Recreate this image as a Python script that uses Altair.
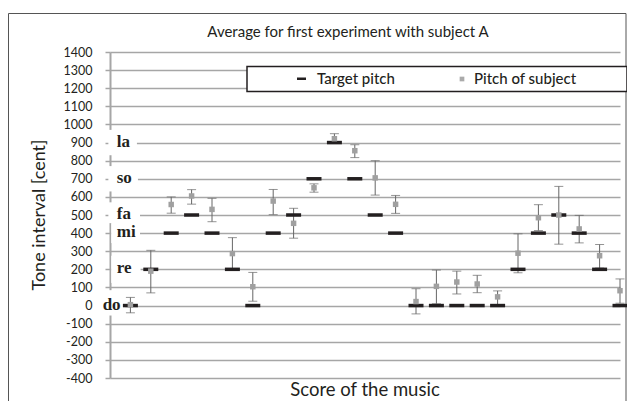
import altair as alt
import pandas as pd

# ---- data ----
positions = [1, 2, 3, 4, 5, 6, 7, 8, 9, 10, 11, 12, 13, 14, 15, 16, 17, 18, 19, 20, 21, 22, 23, 24, 25]
target = [0, 200, 400, 500, 400, 200, 0, 400, 500, 700, 900, 700, 500, 400, 0, 0, 0, 0, 0, 200, 400, 500, 400, 200, 0]
subject = [5, 190, 558, 605, 531, 287, 104, 577, 454, 650, 921, 855, 705, 559, 22, 106, 130, 119, 48, 289, 485, 500, 423, 275, 82]
err_low = [-40, 70, 510, 560, 463, 198, 24, 502, 372, 626, 898, 817, 610, 509, -46, 10, 64, 71, 5, 181, 414, 339, 346, 207, 13]
err_high = [45, 305, 600, 640, 592, 375, 183, 641, 537, 672, 949, 888, 800, 608, 93, 196, 190, 167, 81, 396, 557, 658, 498, 337, 147]

solfege = ["do", "re", "mi", "fa", "so", "la"]
solfege_cents = [0, 200, 400, 500, 700, 900]
y_ticks = list(range(-400, 1401, 100))

title_text = "Average for first experiment with subject A"
y_title = "Tone interval [cent]"
x_title = "Score of the music"
legend_labels = ["Target pitch", "Pitch of subject"]

# label placement (annotation layout)
label_x = [-0.36, 0.33, 0.33, 0.33, 0.33, 0.33]
box_x1 = [-0.5, 0.06, 0.06, -0.08, -0.08, -0.08]
box_x2 = [0.75, 1.5, 1.47, 1.47, 1.37, 1.32]
box_lo = [-55, 125, 345, 455, 630, 830]
box_hi = [85, 275, 455, 570, 770, 970]

df = pd.DataFrame({"pos": positions, "target": target, "subject": subject,
                   "lo": err_low, "hi": err_high})
lab = pd.DataFrame({"name": solfege, "cents": solfege_cents, "lx": label_x,
                    "bx1": box_x1, "bx2": box_x2, "blo": box_lo, "bhi": box_hi})

FONT = "Lato"
INK = "#231f20"
GRID = "#a6a6a6"

xs = alt.Scale(domain=[0, 25], nice=False, zero=False)
ys = alt.Scale(domain=[-400, 1400], nice=False, zero=False)
xaxis = alt.Axis(title=None, labels=False, ticks=False, domain=False, grid=False)
yaxis = alt.Axis(title=None, values=y_ticks, grid=True, labelExpr="'' + datum.value")

one = alt.Data(values=[{"a": 1}])

frame = alt.Chart(one).mark_rect(filled=False, stroke="#555555", strokeWidth=1).encode(
    x=alt.value(-101.5), x2=alt.value(516), y=alt.value(-38.5), y2=alt.value(400))

boxes = alt.Chart(lab).mark_rect(color="white").encode(
    x=alt.X("bx1:Q", scale=xs, axis=xaxis), x2="bx2:Q",
    y=alt.Y("blo:Q", scale=ys, axis=yaxis), y2="bhi:Q")

rules = alt.Chart(df).mark_rule(color="#666666", strokeWidth=1).encode(
    x=alt.X("pos:Q", scale=xs, axis=xaxis),
    y=alt.Y("lo:Q", scale=ys, axis=yaxis), y2="hi:Q")

caps_lo = alt.Chart(df).mark_tick(orient="horizontal", size=9, thickness=1, color="#666666").encode(
    x=alt.X("pos:Q", scale=xs, axis=xaxis), y=alt.Y("lo:Q", scale=ys, axis=yaxis))
caps_hi = alt.Chart(df).mark_tick(orient="horizontal", size=9, thickness=1, color="#666666").encode(
    x=alt.X("pos:Q", scale=xs, axis=xaxis), y=alt.Y("hi:Q", scale=ys, axis=yaxis))

bars = alt.Chart(df).mark_tick(orient="horizontal", size=15, thickness=3.5, color=INK, opacity=1).encode(
    x=alt.X("pos:Q", scale=xs, axis=xaxis), y=alt.Y("target:Q", scale=ys, axis=yaxis))

squares = alt.Chart(df).mark_square(size=30, color="#a0a0a0", opacity=1).encode(
    x=alt.X("pos:Q", scale=xs, axis=xaxis), y=alt.Y("subject:Q", scale=ys, axis=yaxis))

labels = alt.Chart(lab).mark_text(font="Liberation Serif", fontWeight="bold", fontSize=17,
                                  align="left", baseline="middle", color=INK, dy=-1).encode(
    x=alt.X("lx:Q", scale=xs, axis=xaxis), y=alt.Y("cents:Q", scale=ys, axis=yaxis), text="name:N")

leg_box = alt.Chart(one).mark_rect(fill="white", stroke=INK, strokeWidth=1.5).encode(
    x=alt.value(137), x2=alt.value(517), y=alt.value(14.5), y2=alt.value(39.5))
leg_dash = alt.Chart(one).mark_rect(color=INK).encode(
    x=alt.value(187), x2=alt.value(196), y=alt.value(25.5), y2=alt.value(28))
leg_sq = alt.Chart(one).mark_square(size=22, color="#aaaaaa", opacity=1).encode(
    x=alt.value(352), y=alt.value(27))
leg_t1 = alt.Chart(one).mark_text(font=FONT, fontSize=15, fontWeight=500, align="left", baseline="middle", color=INK).encode(
    x=alt.value(207), y=alt.value(27), text=alt.value(legend_labels[0]))
leg_t2 = alt.Chart(one).mark_text(font=FONT, fontSize=15, fontWeight=500, align="left", baseline="middle", color=INK).encode(
    x=alt.value(364), y=alt.value(27), text=alt.value(legend_labels[1]))

t_title = alt.Chart(one).mark_text(font=FONT, fontSize=15, align="center", baseline="middle", color=INK).encode(
    x=alt.value(238), y=alt.value(-20), text=alt.value(title_text))
t_y = alt.Chart(one).mark_text(font=FONT, fontSize=18, align="center", baseline="middle", angle=270, color=INK).encode(
    x=alt.value(-70), y=alt.value(163), text=alt.value(y_title))
t_x = alt.Chart(one).mark_text(font=FONT, fontSize=18.5, align="center", baseline="middle", color=INK).encode(
    x=alt.value(255), y=alt.value(338), text=alt.value(x_title))

chart = alt.layer(
    frame, boxes, rules, caps_lo, caps_hi, bars, squares, labels,
    leg_box, leg_dash, leg_sq, leg_t1, leg_t2, t_title, t_y, t_x
).properties(
    width=510, height=326,
    autosize=alt.AutoSizeParams(type="none"),
    padding={"left": 102, "top": 44, "right": 7, "bottom": 23},
    background="white",
).configure_view(strokeWidth=0).configure_axis(
    domainColor=GRID, domainWidth=2, tickColor=GRID, tickSize=5, tickWidth=1.5,
    gridColor=GRID, gridWidth=1.5, labelFont=FONT, labelFontSize=12.5, labelColor=INK,
    labelPadding=13,
)

chart.save("out.html", embed_options={"renderer": "svg", "actions": False})
